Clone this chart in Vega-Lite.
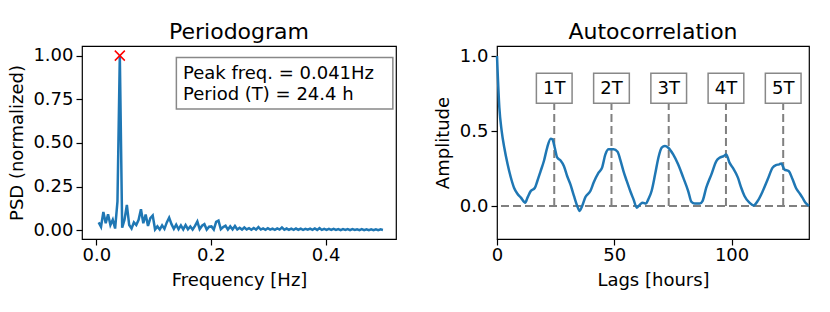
{
 "$schema": "https://vega.github.io/schema/vega-lite/v6.json",
 "padding": {"left": 7, "top": 20, "right": 5, "bottom": 5},
 "bounds": "flush",
 "config": {
  "font": "DejaVu Sans",
  "view": {"stroke": "black", "strokeWidth": 1.2},
  "axis": {"grid": false, "domain": false, "tickColor": "black", "tickWidth": 1.2, "tickSize": 6, "labelFontSize": 18, "labelColor": "black", "labelFont": "DejaVu Sans", "titleFontSize": 18, "titleFontWeight": "normal", "titleColor": "black", "titleFont": "DejaVu Sans", "labelFlush": false, "labelOverlap": false},
  "axisX": {"labelBaseline": "alphabetic", "labelPadding": 15.5, "titleBaseline": "alphabetic", "titlePadding": 20.5},
  "axisY": {"labelPadding": 3, "titleBaseline": "alphabetic", "titlePadding": 10.7},
  "title": {"fontSize": 22, "fontWeight": "normal", "font": "DejaVu Sans", "color": "black", "offset": 2},
  "line": {"color": "#1f77b4", "strokeWidth": 2.5}
 },
 "spacing": 101,
 "datasets": {
  "psd": [
   {"f":0.0041,"psd":0.045},{"f":0.0082,"psd":0.020},{"f":0.0123,"psd":0.105},{"f":0.0164,"psd":0.040},{"f":0.0205,"psd":0.092},{"f":0.0246,"psd":0.030},{"f":0.0287,"psd":0.060},{"f":0.0328,"psd":0.010},{"f":0.0369,"psd":0.165},{"f":0.0410,"psd":1.000},
   {"f":0.0451,"psd":0.015},{"f":0.0492,"psd":0.060},{"f":0.0533,"psd":0.145},{"f":0.0574,"psd":0.030},{"f":0.0615,"psd":0.010},{"f":0.0656,"psd":0.045},{"f":0.0697,"psd":0.030},{"f":0.0738,"psd":0.060},{"f":0.0779,"psd":0.120},{"f":0.0820,"psd":0.040},
   {"f":0.0861,"psd":0.090},{"f":0.0902,"psd":0.025},{"f":0.0943,"psd":0.070},{"f":0.0984,"psd":0.085},{"f":0.1025,"psd":0.005},{"f":0.1066,"psd":0.022},{"f":0.1107,"psd":0.004},{"f":0.1148,"psd":0.028},{"f":0.1189,"psd":0.008},{"f":0.1230,"psd":0.045},
   {"f":0.1271,"psd":0.072},{"f":0.1312,"psd":0.035},{"f":0.1353,"psd":0.008},{"f":0.1394,"psd":0.032},{"f":0.1435,"psd":0.006},{"f":0.1476,"psd":0.028},{"f":0.1517,"psd":0.005},{"f":0.1558,"psd":0.030},{"f":0.1599,"psd":0.006},{"f":0.1640,"psd":0.022},
   {"f":0.1681,"psd":0.004},{"f":0.1722,"psd":0.025},{"f":0.1763,"psd":0.050},{"f":0.1804,"psd":0.006},{"f":0.1845,"psd":0.026},{"f":0.1886,"psd":0.035},{"f":0.1927,"psd":0.004},{"f":0.1968,"psd":0.020},{"f":0.2009,"psd":0.022},{"f":0.2050,"psd":0.004},
   {"f":0.2091,"psd":0.048},{"f":0.2132,"psd":0.055},{"f":0.2173,"psd":0.006},{"f":0.2214,"psd":0.018},{"f":0.2255,"psd":0.026},{"f":0.2296,"psd":0.004},{"f":0.2337,"psd":0.022},{"f":0.2378,"psd":0.005},{"f":0.2419,"psd":0.024},{"f":0.2460,"psd":0.004},
   {"f":0.2501,"psd":0.014},{"f":0.2542,"psd":0.004},{"f":0.2583,"psd":0.016},{"f":0.2624,"psd":0.005},{"f":0.2665,"psd":0.012},{"f":0.2706,"psd":0.003},{"f":0.2747,"psd":0.013},{"f":0.2788,"psd":0.004},{"f":0.2829,"psd":0.018},{"f":0.2870,"psd":0.004},
   {"f":0.2911,"psd":0.011},{"f":0.2952,"psd":0.003},{"f":0.2993,"psd":0.012},{"f":0.3034,"psd":0.004},{"f":0.3075,"psd":0.010},{"f":0.3116,"psd":0.003},{"f":0.3157,"psd":0.011},{"f":0.3198,"psd":0.004},{"f":0.3239,"psd":0.016},{"f":0.3280,"psd":0.003},
   {"f":0.3321,"psd":0.010},{"f":0.3362,"psd":0.003},{"f":0.3403,"psd":0.009},{"f":0.3444,"psd":0.002},{"f":0.3485,"psd":0.010},{"f":0.3526,"psd":0.003},{"f":0.3567,"psd":0.009},{"f":0.3608,"psd":0.002},{"f":0.3649,"psd":0.008},{"f":0.3690,"psd":0.003},
   {"f":0.3731,"psd":0.009},{"f":0.3772,"psd":0.002},{"f":0.3813,"psd":0.010},{"f":0.3854,"psd":0.002},{"f":0.3895,"psd":0.012},{"f":0.3936,"psd":0.002},{"f":0.3977,"psd":0.008},{"f":0.4018,"psd":0.002},{"f":0.4059,"psd":0.008},{"f":0.4100,"psd":0.002},
   {"f":0.4141,"psd":0.008},{"f":0.4182,"psd":0.002},{"f":0.4223,"psd":0.007},{"f":0.4264,"psd":0.001},{"f":0.4305,"psd":0.007},{"f":0.4346,"psd":0.002},{"f":0.4387,"psd":0.007},{"f":0.4428,"psd":0.001},{"f":0.4469,"psd":0.007},{"f":0.4510,"psd":0.002},
   {"f":0.4551,"psd":0.006},{"f":0.4592,"psd":0.001},{"f":0.4633,"psd":0.007},{"f":0.4674,"psd":0.001},{"f":0.4715,"psd":0.006},{"f":0.4756,"psd":0.001},{"f":0.4797,"psd":0.006},{"f":0.4838,"psd":0.001},{"f":0.4879,"psd":0.006},{"f":0.4920,"psd":0.001},
   {"f":0.4961,"psd":0.005},{"f":0.5002,"psd":0.002}
  ],
  "acf": [
   {"lag":0,"acf":1.0},{"lag":1,"acf":0.656},{"lag":2,"acf":0.5},{"lag":3.1,"acf":0.39},{"lag":4.5,"acf":0.28},{"lag":5.9,"acf":0.19},{"lag":7.3,"acf":0.12},{"lag":8.7,"acf":0.082},{"lag":10.2,"acf":0.056},{"lag":11.6,"acf":0.027},{"lag":12.0,"acf":0.022},
   {"lag":13,"acf":0.056},{"lag":14.4,"acf":0.1},{"lag":16.1,"acf":0.12},{"lag":17.2,"acf":0.167},{"lag":18.6,"acf":0.233},{"lag":20,"acf":0.3},{"lag":21.4,"acf":0.39},{"lag":22.9,"acf":0.449},{"lag":23.6,"acf":0.445},
   {"lag":24.6,"acf":0.39},{"lag":25.7,"acf":0.322},{"lag":27.1,"acf":0.304},{"lag":28.5,"acf":0.267},{"lag":29.9,"acf":0.2},{"lag":31.3,"acf":0.144},{"lag":32.8,"acf":0.067},{"lag":34.2,"acf":0.0},{"lag":35.2,"acf":-0.033},{"lag":36.3,"acf":0.0},
   {"lag":37.7,"acf":0.06},{"lag":39.8,"acf":0.1},{"lag":41.2,"acf":0.156},{"lag":43.3,"acf":0.222},{"lag":44.8,"acf":0.256},{"lag":46.2,"acf":0.344},{"lag":47.6,"acf":0.378},{"lag":49.7,"acf":0.378},{"lag":51.4,"acf":0.362},{"lag":52.5,"acf":0.311},
   {"lag":53.9,"acf":0.233},{"lag":55.3,"acf":0.167},{"lag":56.8,"acf":0.1},{"lag":58.2,"acf":0.044},{"lag":59.6,"acf":-0.011},{"lag":61,"acf":0.011},{"lag":62.1,"acf":0.022},{"lag":63.5,"acf":0.016},{"lag":64.5,"acf":0.044},{"lag":65.9,"acf":0.1},
   {"lag":67.4,"acf":0.211},{"lag":68.8,"acf":0.322},{"lag":70.2,"acf":0.389},{"lag":71.6,"acf":0.4},{"lag":73,"acf":0.389},{"lag":75.1,"acf":0.344},{"lag":77.2,"acf":0.278},{"lag":79.4,"acf":0.189},{"lag":81.5,"acf":0.1},{"lag":82.9,"acf":0.027},
   {"lag":84.3,"acf":0.016},{"lag":86.4,"acf":0.016},{"lag":87.6,"acf":0.033},{"lag":89.2,"acf":0.122},{"lag":91.4,"acf":0.211},{"lag":93.5,"acf":0.3},{"lag":94.9,"acf":0.322},{"lag":96.6,"acf":0.333},{"lag":97.7,"acf":0.344},{"lag":99.1,"acf":0.289},
   {"lag":100.5,"acf":0.256},{"lag":102.7,"acf":0.189},{"lag":104.1,"acf":0.122},{"lag":105.5,"acf":0.067},{"lag":107.6,"acf":0.022},{"lag":109.4,"acf":0.004},{"lag":111.1,"acf":0.033},{"lag":113.3,"acf":0.1},{"lag":115.4,"acf":0.178},{"lag":117.5,"acf":0.256},
   {"lag":118.9,"acf":0.273},{"lag":120.3,"acf":0.278},{"lag":121.2,"acf":0.284},{"lag":122.5,"acf":0.244},{"lag":124.3,"acf":0.233},{"lag":126,"acf":0.178},{"lag":127.4,"acf":0.122},{"lag":128.8,"acf":0.089},{"lag":130.2,"acf":0.056},{"lag":131.6,"acf":0.02},{"lag":133,"acf":0.0}
  ],
  "periods": [
   {"lag":24.4,"label":"1T"},{"lag":48.8,"label":"2T"},{"lag":73.2,"label":"3T"},{"lag":97.6,"label":"4T"},{"lag":122.0,"label":"5T"}
  ]
 },
 "hconcat": [
  {
   "width": 314, "height": 193,
   "title": "Periodogram",
   "layer": [
    {"data": {"name": "psd"}, "mark": {"type": "line", "color": "#1f77b4", "strokeWidth": 2.5},
     "encoding": {
      "x": {"field": "f", "type": "quantitative", "scale": {"domain": [-0.025, 0.523], "nice": false, "zero": false}, "axis": {"values": [0, 0.2, 0.4], "format": ".1f", "title": "Frequency [Hz]"}},
      "y": {"field": "psd", "type": "quantitative", "scale": {"domain": [-0.05, 1.055], "nice": false, "zero": false}, "axis": {"values": [0, 0.25, 0.5, 0.75, 1], "format": ".2f", "title": "PSD (normalized)"}}
     }},
    {"data": {"name": "psd"}, "transform": [{"filter": "datum.psd >= 1"}],
     "mark": {"type": "point", "shape": "M-1,-1L1,1M-1,1L1,-1", "color": "red", "filled": false, "strokeWidth": 1.5, "size": 100, "opacity": 1},
     "encoding": {"x": {"field": "f", "type": "quantitative"}, "y": {"field": "psd", "type": "quantitative"}}},
    {"data": {"values": [{}]}, "mark": {"type": "rect", "fill": "white", "stroke": "#888888", "strokeWidth": 1.5},
     "encoding": {"x": {"datum": 0.1397}, "x2": {"datum": 0.5175}, "y": {"datum": 0.9885}, "y2": {"datum": 0.695}}},
    {"data": {"values": [{}]}, "mark": {"type": "text", "text": ["Peak freq. = 0.041Hz", "Period (T) = 24.4 h"], "align": "left", "baseline": "alphabetic", "fontSize": 18, "lineHeight": 21, "color": "black"},
     "encoding": {"x": {"datum": 0.1512}, "y": {"datum": 0.868}}}
   ]
  },
  {
   "width": 312, "height": 193,
   "title": "Autocorrelation",
   "layer": [
    {"data": {"values": [{}]}, "mark": {"type": "rule", "color": "#808080", "strokeWidth": 2, "strokeDash": [8, 4]},
     "encoding": {"y": {"datum": 0}}},
    {"data": {"name": "periods"}, "mark": {"type": "rule", "color": "#808080", "strokeWidth": 2, "strokeDash": [8, 4]},
     "encoding": {"x": {"field": "lag", "type": "quantitative"}, "y": {"datum": 0}, "y2": {"datum": 0.7}}},
    {"data": {"name": "acf"}, "mark": {"type": "line", "color": "#1f77b4", "strokeWidth": 2.5, "interpolate": "monotone"},
     "encoding": {
      "x": {"field": "lag", "type": "quantitative", "scale": {"domain": [0, 133], "nice": false, "zero": false}, "axis": {"values": [0, 50, 100], "title": "Lags [hours]"}},
      "y": {"field": "acf", "type": "quantitative", "scale": {"domain": [-0.22, 1.067], "nice": false, "zero": false}, "axis": {"values": [0, 0.5, 1], "format": ".1f", "title": "Amplitude"}}
     }},
    {"data": {"name": "periods"}, "mark": {"type": "point", "shape": "M-1.19,-1H1.19V1H-1.19Z", "size": 900, "filled": true, "fill": "white", "stroke": "#888888", "strokeWidth": 1.5, "opacity": 1},
     "encoding": {"x": {"field": "lag", "type": "quantitative"}, "y": {"datum": 0.785}}},
    {"data": {"name": "periods"}, "mark": {"type": "text", "fontSize": 18, "baseline": "alphabetic", "align": "center", "color": "black"},
     "encoding": {"x": {"field": "lag", "type": "quantitative"}, "y": {"datum": 0.745}, "text": {"field": "label"}}}
   ]
  }
 ]
}
